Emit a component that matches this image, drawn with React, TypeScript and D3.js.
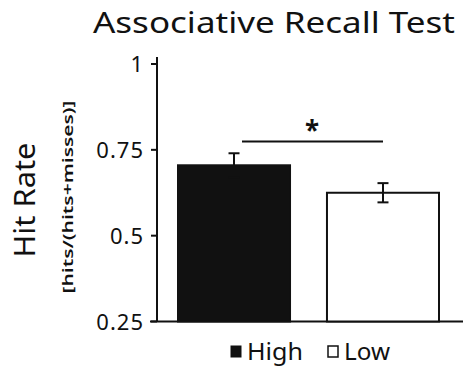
import React from "react";
import * as d3 from "d3";

const categories = ["High", "Low"];
const values = [0.705, 0.625];
const errors = [0.035, 0.028];
const fills = ["#111111", "#ffffff"];
const yTicks = [0.25, 0.5, 0.75, 1];
const yTickLabels = ["0.25", "0.5", "0.75", "1"];

const W = 470;
const H = 369;
const FONT = "'Noto Sans', 'DejaVu Sans', sans-serif";

export default function App() {
  const y = d3.scaleLinear().domain([0.25, 1]).range([321.5, 64]);
  const x = d3.scaleBand().domain(categories).range([178, 439]).paddingInner(0.248).paddingOuter(0);
  const bw = x.bandwidth();

  return (
    <svg width={W} height={H} style={{ position: "absolute", left: 0, top: 0, background: "#fff" }}>
      <text x={274} y={33} textAnchor="middle" fontFamily={FONT} fontSize={29} textLength={362} lengthAdjust="spacingAndGlyphs" fill="#111">
        Associative Recall Test
      </text>
      {/* y axis */}
      <line x1={157} x2={157} y1={57} y2={322} stroke="#111" strokeWidth={2} />
      <line x1={150} x2={463} y1={321.5} y2={321.5} stroke="#111" strokeWidth={2} />
      {yTicks.map((t, i) => (
        <g key={t}>
          <line x1={151} x2={157} y1={y(t)} y2={y(t)} stroke="#111" strokeWidth={2} />
          <text x={144} y={y(t) + 8} textAnchor="end" fontFamily={FONT} fontSize={22} letterSpacing={1} fill="#111">
            {yTickLabels[i]}
          </text>
        </g>
      ))}
      <text transform="translate(35,200) rotate(-90)" textAnchor="middle" fontFamily={FONT} fontSize={29} textLength={115} lengthAdjust="spacingAndGlyphs" fill="#111">
        Hit Rate
      </text>
      <text transform="translate(73,197) rotate(-90)" textAnchor="middle" fontFamily={FONT} fontSize={14} fontWeight={600} textLength={193} lengthAdjust="spacingAndGlyphs" fill="#111">
        [hits/(hits+misses)]
      </text>
      {categories.map((c, i) => {
        const x0 = x(c)!;
        const cx = x0 + bw / 2;
        const hi = y(values[i] + errors[i]);
        const lo = y(values[i] - errors[i]);
        const capW = 5.5;
        return (
          <g key={c}>
            <rect x={x0} y={y(values[i])} width={bw} height={y(0.25) - y(values[i])} fill={fills[i]} stroke="#111" strokeWidth={2} />
            <line x1={cx} x2={cx} y1={hi} y2={lo} stroke="#111" strokeWidth={2} />
            <line x1={cx - capW} x2={cx + capW} y1={hi} y2={hi} stroke="#111" strokeWidth={2} />
            <line x1={cx - capW} x2={cx + capW} y1={lo} y2={lo} stroke="#111" strokeWidth={2} />
          </g>
        );
      })}
      {/* significance */}
      <line x1={242} x2={383} y1={141.5} y2={141.5} stroke="#111" strokeWidth={2} />
      <text x={312} y={140} textAnchor="middle" fontFamily={FONT} fontSize={26} fontWeight={700} fill="#111">*</text>
      {/* legend */}
      <rect x={231} y={346} width={10} height={11} fill="#111" stroke="#111" strokeWidth={1} />
      <text x={247} y={360} fontFamily={FONT} fontSize={24} textLength={56} lengthAdjust="spacingAndGlyphs" fill="#111">High</text>
      <rect x={328} y={346} width={10} height={11} fill="#fff" stroke="#111" strokeWidth={1.5} />
      <text x={344} y={360} fontFamily={FONT} fontSize={24} textLength={46} lengthAdjust="spacingAndGlyphs" fill="#111">Low</text>
    </svg>
  );
}
